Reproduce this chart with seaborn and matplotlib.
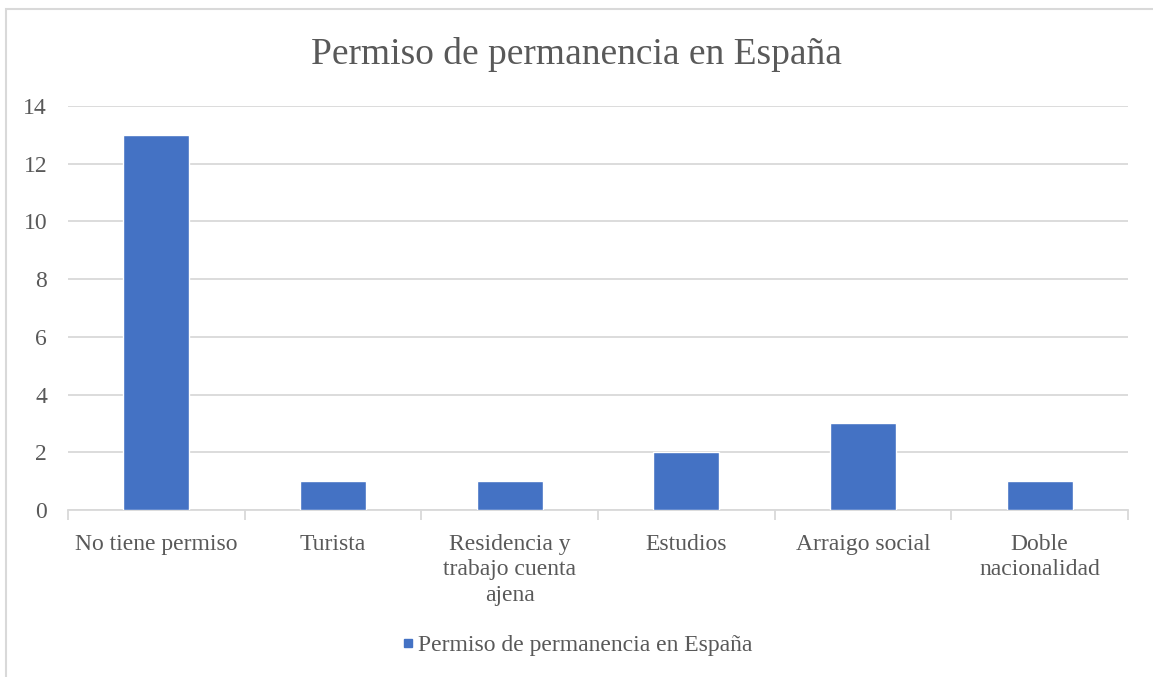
"""
Bar chart: Permiso de permanencia en España.
"""

import numpy as np
import pandas as pd
import matplotlib
matplotlib.use("Agg")
import matplotlib.pyplot as plt
from matplotlib.lines import Line2D
from matplotlib.patches import Rectangle
import seaborn as sns

categorias = [
    "No tiene permiso",
    "Turista",
    "Residencia y\ntrabajo cuenta\najena",
    "Estudios",
    "Arraigo social",
    "Doble\nnacionalidad",
]
valores = [13, 1, 1, 2, 3, 1]
serie = "Permiso de permanencia en España"
y_ticks = [0, 2, 4, 6, 8, 10, 12, 14]

BAR = "#4472C4"
GRID = "#D9D9D9"
TEXT = "#595959"

sns.set_theme(style="white")
plt.rcParams["font.family"] = ["Liberation Serif", "DejaVu Serif"]

df = pd.DataFrame({"categoria": categorias, "valor": valores})

fig = plt.figure(figsize=(11.53, 6.77), dpi=100)
ax = fig.add_axes([68 / 1153, 1 - 510 / 677, 1060 / 1153, 404 / 677])

sns.barplot(data=df, x="categoria", y="valor", color=BAR, width=0.374,
            saturation=1, ax=ax, zorder=3)

ax.set_ylim(0, 14)
ax.set_xlim(-0.5, len(categorias) - 0.5)
ax.set_yticks(y_ticks)
ax.yaxis.grid(True, color=GRID, linewidth=1.3, zorder=0)
ax.set_axisbelow(True)
for s in ["top", "right", "left"]:
    ax.spines[s].set_visible(False)
ax.spines["bottom"].set_color(GRID)
ax.spines["bottom"].set_linewidth(1.3)

ax.tick_params(axis="y", length=0, labelsize=17, labelcolor=TEXT, pad=15)
ax.tick_params(axis="x", which="major", length=0, labelsize=17,
               labelcolor=TEXT, pad=17)
ax.set_xticks(np.arange(-0.5, len(categorias)), minor=True)
ax.tick_params(axis="x", which="minor", bottom=True, length=7, width=1.3,
               color=GRID)
for lbl in ax.get_xticklabels():
    lbl.set_linespacing(1.3)
ax.set_xlabel("")
ax.set_ylabel("")

fig.text(0.5, 1 - 55 / 677, serie, ha="center", va="center",
         fontsize=27, color=TEXT)

handle = Line2D([], [], marker="s", linestyle="none", color=BAR,
                markersize=6)
fig.legend([handle], [serie], loc="center", bbox_to_anchor=(0.5, 1 - 645 / 677),
           frameon=False, fontsize=17, labelcolor=TEXT, handletextpad=0.1,
           handlelength=0.6)

# chart frame (cut off at right and bottom like the source)
fig.patches.append(Rectangle((6 / 1153, -0.05), 1.2, 1 - 9 / 677 + 0.05,
                             transform=fig.transFigure, fill=False,
                             edgecolor=GRID, linewidth=1.5))

fig.savefig("out.png", dpi=100)
plt.close(fig)
